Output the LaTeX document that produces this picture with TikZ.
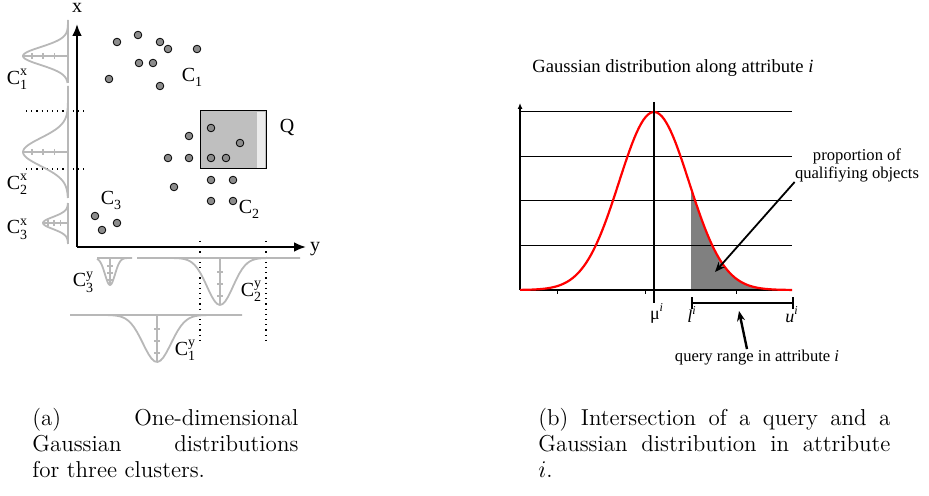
\documentclass[tikz,border=0pt]{standalone}
\usepackage{fontspec}
\newfontfamily\tnr{Liberation Serif}
\usetikzlibrary{arrows.meta,positioning}
\newcommand\clab[2]{C\rlap{\raisebox{0.95ex}{\scriptsize #1}}\raisebox{-0.55ex}{\scriptsize #2}}
\newcommand\csub[1]{C\raisebox{-0.55ex}{\scriptsize #1}}

\begin{document}
\begin{tikzpicture}[
  x=0.5pt, y=-0.5pt,
  lab/.style={font=\tnr\fontsize{10}{12}\selectfont, inner sep=0pt},
  note/.style={font=\tnr\fontsize{8.3}{9}\selectfont, inner sep=0pt, align=center},
  capt/.style={font=\fontsize{11.5}{13}\selectfont, inner sep=0pt, anchor=north west},
  pt/.style={circle, draw=black, line width=0.4pt, fill=black!45, minimum size=3.8pt, inner sep=0pt},
  axis/.style={line width=1.2pt, -{Latex[length=6pt,width=5pt]}},
  prof/.style={black!28, line width=0.9pt},
  guide/.style={dotted, line width=0.6pt},
  grid/.style={line width=0.5pt},
  arr/.style={line width=0.9pt, -{Stealth[length=5pt,width=4pt]}},
]
\useasboundingbox (0,0) rectangle (929,496);

% (a) clusters in the x/y plane
\coordinate (o) at (77,247);
\coordinate (xtop) at (77,24);
\coordinate (yend) at (306,247);
\draw[guide] (26,111) -- (85,111);
\draw[guide] (26,169) -- (85,169);
\draw[guide] (200,241) -- (200,343);
\draw[guide] (266,241) -- (266,343);
\draw[axis] (o) -- (xtop);
\draw[axis] (o) -- (yend);
\node[lab] (xlab) at (77,8) {x};
\node[lab] (ylab) at (315,249) {y};

\node[draw=black, line width=0.5pt, fill=black!25, minimum width=33pt, minimum height=29pt, inner sep=0pt] (qbox) at (233,140) {};
\fill[black!8] (257,112) rectangle (265.3,168);
\node[lab] (qlab) at (287,128) {Q};

\foreach \px/\py [count=\k] in {117/42,138/35,160/42,168/49,197/49,139/63,153/63,109/79,160/86}
  \node[pt] (a\k) at (\px,\py) {};
\foreach \px/\py [count=\k] in {211/128,240/143,189/136,168/158,189/158,211/158,226/158,211/180,233/180,174/187,211/201,233/201}
  \node[pt] (b\k) at (\px,\py) {};
\foreach \px/\py [count=\k] in {95/216,117/223,102/230}
  \node[pt] (c\k) at (\px,\py) {};
\node[lab] (c1) at (192,77) {\csub{1}};
\node[lab] (c2) at (249,209) {\csub{2}};
\node[lab] (c3) at (111,200) {\csub{3}};

% projections on x
\foreach \c/\h/\s/\a/\b in {56/45/9/20/83, 152/45/14/86/198, 223/25/6/203/244} {
  \draw[prof] (68,\a) -- (68,\b);
  \draw[prof, domain=\a:\b, samples=60, variable=\t] plot ({68-\h*exp(-0.5*((\t-\c)/\s)^2)}, \t);
  \draw[prof] (68-\h,\c) -- (68,\c);
  \foreach \f in {0.3,0.55,0.8} \draw[prof] ({68-\f*\h},\c-3) -- ({68-\f*\h},\c+3);
}
\node[lab] (c1x) at (17,79) {\clab{x}{1}};
\node[lab] (c2x) at (17,184) {\clab{x}{2}};
\node[lab] (c3x) at (17,229) {\clab{x}{3}};

% projections on y
\foreach \c/\base/\h/\s/\a/\b in {110/258/27/5/97/132, 220/258/47/13/137/300, 157/315/47/14/70/242} {
  \draw[prof] (\a,\base) -- (\b,\base);
  \draw[prof, domain=\a:\b, samples=60] plot (\x, {\base+\h*exp(-0.5*((\x-\c)/\s)^2)});
  \draw[prof] (\c,\base) -- (\c,\base+\h);
  \foreach \f in {0.3,0.55,0.8} \draw[prof] (\c-3,\base+\f*\h) -- (\c+3,\base+\f*\h);
}
\node[lab] (c3y) at (83,282) {\clab{y}{3}};
\node[lab] (c2y) at (251,291) {\clab{y}{2}};
\node[lab] (c1y) at (185,350) {\clab{y}{1}};

% (b) query range against one gaussian
\node[font=\tnr\fontsize{9.3}{11}\selectfont, inner sep=0pt, anchor=base west] (ttl) at (532,73) {Gaussian distribution along attribute \textit{i}};
\coordinate (org) at (520,290);
\coordinate (ytop) at (520,103);
\fill[black!50] (691,290) -- plot[domain=691:792, samples=40] (\x,{290-178*exp(-0.5*((\x-654)/35)^2)}) -- (792,290) -- cycle;
\foreach \g in {112,157,201,246} \draw[grid] (520,\g) -- (792,\g);
\draw[grid, line width=0.7pt] (org) -- (792,290);
\draw[line width=0.6pt, -{Latex[length=3pt,width=2.5pt]}] (org) -- (ytop);
\foreach \t in {557,645,736} \draw[grid] (\t,290) -- (\t,294);
\draw[red, line width=1.1pt, domain=520:792, samples=120] plot (\x,{290-178*exp(-0.5*((\x-654)/35)^2)});
\draw[line width=0.7pt] (654,102) -- (654,303);

\coordinate (lo) at (692,303);
\coordinate (hi) at (793,303);
\draw[line width=1.2pt] (lo) -- (hi);
\draw[line width=1.2pt] (692,297) -- (692,309);
\draw[line width=1.2pt] (793,297) -- (793,309);
\node[font=\tnr\fontsize{9}{10}\selectfont, inner sep=0pt, anchor=base] (mu) at (657,319) {μ\textsuperscript{\itshape i}};
\node[font=\tnr\fontsize{9}{10}\selectfont, inner sep=0pt, anchor=base east] (llab) at (697,322) {\itshape l\textsuperscript{i}};
\node[font=\tnr\fontsize{9}{10}\selectfont, inner sep=0pt, anchor=base] (ulab) at (792,322) {\itshape u\textsuperscript{i}};

\node[note] (prop) at (857,165) {proportion of\\ qualifiying objects};
\coordinate (shd) at (715,272);
\draw[arr] (prop.south west) -- (shd);
\node[note, anchor=base] (qr) at (757,361) {query range in attribute \textit{i}};
\coordinate (barpt) at (739,311);
\draw[arr, line width=1.2pt] ([xshift=-5pt]qr.north) -- (barpt);

% captions
\node[capt, text width=133pt, align=left] (capa) at (32,408) {(a)\hfill One-dimensional\\ Gaussian\hfill distributions\\ for three clusters.};
\node[capt, text width=176pt, align=justify] (capb) at (538,408) {(b) Intersection of a query and a\linebreak Gaussian distribution in attribute\linebreak $i$.};
\end{tikzpicture}
\end{document}
